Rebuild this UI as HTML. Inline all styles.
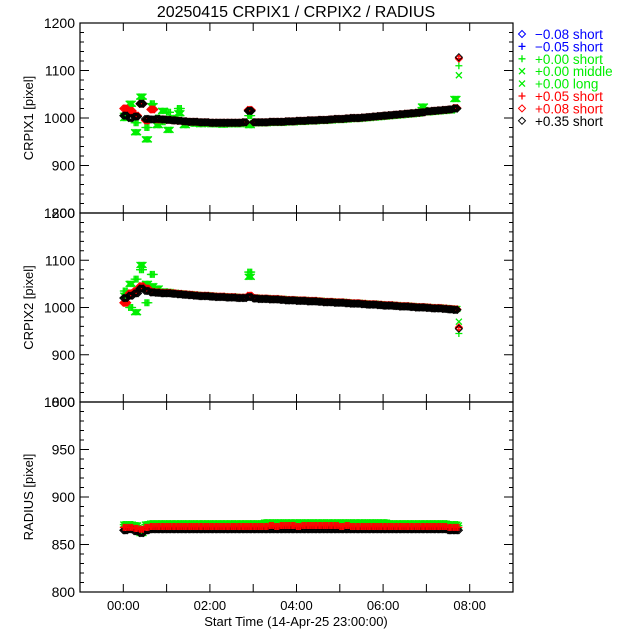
<!DOCTYPE html>
<html><head><meta charset="utf-8"><style>
html,body{margin:0;padding:0;background:#fff;width:640px;height:640px;overflow:hidden}
svg{display:block;font-family:"Liberation Sans",sans-serif}
</style></head><body>
<svg id="chart" width="640" height="640" viewBox="0 0 640 640" xmlns="http://www.w3.org/2000/svg">
<rect x="0" y="0" width="640" height="640" fill="#fff"/>
<text x="296" y="17" font-size="16" text-anchor="middle">20250415 CRPIX1 / CRPIX2 / RADIUS</text>
<g id="legend"></g>
<g id="plots"></g>
</svg>
<script>
// ---- data ----
const times = [0,0.125,0.25,0.375,0.5,0.625,0.75,0.875,1,1.125,1.25,1.375,1.5,1.625,1.75,1.875,2,2.125,2.25,2.375,2.5,2.625,2.75,2.875,3,3.125,3.25,3.375,3.5,3.625,3.75,3.875,4,4.125,4.25,4.375,4.5,4.625,4.75,4.875,5,5.125,5.25,5.375,5.5,5.625,5.75,5.875,6,6.125,6.25,6.375,6.5,6.625,6.75,6.875,7,7.125,7.25,7.375,7.5,7.625,7.75];
const xTickLabels = ["00:00","02:00","04:00","06:00","08:00"];
const xTickHours = [0,2,4,6,8];

const c1Black = [1005,1000,1003,1030,998,997,998,997,996,995,994,993,992,992,991,991,990,990,990,990,990,990,991,1015,991,991,991,992,992,992,993,993,994,994,995,995,996,996,997,998,998,999,1000,1000,1001,1002,1003,1004,1005,1006,1007,1008,1009,1010,1011,1012,1014,1015,1016,1017,1018,1020,1128];
const c1Red   = [1020,1015,1005,1030,995,1018,997,997,996,995,994,993,992,992,991,991,990,990,990,990,990,990,991,1017,991,991,991,992,992,992,993,993,994,994,995,995,996,996,997,998,998,999,1000,1000,1001,1002,1003,1004,1005,1006,1007,1008,1009,1010,1011,1012,1014,1015,1016,1017,1018,1021,1125];
const c1Green = [1010,1025,990,1040,980,1030,1000,992,1012,995,1020,990,991,990,990,989,988,989,988,989,989,988,990,1005,990,990,990,991,991,991,992,992,993,993,994,994,995,995,996,997,997,998,999,999,1000,1001,1002,1003,1004,1005,1006,1007,1008,1009,1010,1022,1013,1014,1015,1016,1017,1019,1110];
const c1GreenX = [1000,1030,970,1045,955,1025,985,1015,975,1000,1010,985,990,988,987,988,987,987,986,987,987,987,988,985,989,989,989,990,990,990,991,991,992,992,993,993,994,994,995,996,996,997,998,998,999,1000,1001,1002,1003,1004,1005,1006,1007,1008,1009,1024,1012,1013,1014,1015,1016,1040,1090];

const c2Black = [1020,1025,1030,1040,1035,1032,1031,1030,1030,1029,1028,1027,1026,1025,1024,1024,1023,1022,1022,1021,1021,1020,1020,1022,1019,1018,1018,1017,1017,1016,1015,1015,1014,1014,1013,1013,1012,1011,1011,1010,1010,1009,1008,1008,1007,1006,1006,1005,1004,1004,1003,1002,1002,1001,1000,1000,999,998,998,997,996,995,955];
const c2Red   = [1010,1030,1035,1045,1040,1033,1032,1031,1031,1030,1029,1028,1027,1026,1025,1025,1024,1023,1023,1022,1022,1021,1021,1025,1020,1019,1019,1018,1018,1017,1016,1016,1015,1015,1014,1014,1013,1012,1012,1011,1011,1010,1009,1009,1008,1007,1007,1006,1005,1005,1004,1003,1003,1002,1001,1001,1000,999,999,998,997,996,958];
const c2Green = [1035,1000,1060,1080,1010,1070,1035,1030,1032,1030,1029,1028,1027,1026,1025,1025,1024,1023,1023,1022,1022,1021,1021,1075,1020,1019,1019,1018,1018,1017,1016,1016,1015,1015,1014,1014,1013,1012,1012,1011,1011,1010,1009,1009,1008,1007,1007,1006,1005,1005,1004,1003,1003,1002,1001,1001,1000,999,999,998,997,996,945];
const c2GreenX = [1025,1050,990,1090,1050,1045,1040,1034,1033,1031,1030,1029,1028,1027,1026,1026,1025,1024,1024,1023,1023,1022,1022,1065,1021,1020,1020,1019,1019,1018,1017,1017,1016,1016,1015,1015,1014,1013,1013,1012,1012,1011,1010,1010,1009,1008,1008,1007,1006,1006,1005,1004,1004,1003,1002,1002,1001,1000,1000,999,998,997,970];

const rBlack = [865,866,864,862,865,866,866,866,866,866,866,866,866,866,866,866,866,866,866,866,866,866,866,866,866,866,866,866,866,866,866,866,866,866,866,866,866,866,866,866,866,866,866,866,866,866,866,866,866,866,866,866,866,866,866,866,866,866,866,866,865,865,865];
const rRed   = [868,868,867,866,868,869,869,869,869,869,869,869,869,869,869,869,869,869,869,869,869,869,869,869,869,869,869,870,869,870,870,870,869,870,870,870,870,870,870,870,869,870,869,869,869,869,869,869,869,869,869,869,869,869,869,869,869,869,869,869,868,868,868];
const rGreen = [871,871,870,862,871,872,872,872,872,872,872,872,872,872,872,872,872,872,872,872,872,872,872,872,872,872,873,873,873,873,873,873,873,873,873,873,873,873,873,873,873,873,873,873,873,873,873,873,873,872,872,872,872,872,872,872,872,872,872,872,871,871,870];

const legendLabels = ["\u22120.08 short","\u22120.05 short","+0.00 short","+0.00 middle","+0.00 long","+0.05 short","+0.08 short","+0.35 short"];
const legendColors = ["#0000ff","#0000ff","#00ee00","#00ee00","#00ee00","#ff0000","#ff0000","#000000"];
const legendSyms = ["d","p","p","x","x","p","d","d"];

// ---- layout ----
const NS="http://www.w3.org/2000/svg";
const plots=document.getElementById('plots');
const X0=80,X1=513,H0=-1,H1=9;
const xs=h=>X0+(h-H0)/(H1-H0)*(X1-X0);
const SUB=[0,0.03,0.06,0.09]; // exposure sub-samples within each time bin (hours)
function mk(tag,attrs,parent){const e=document.createElementNS(NS,tag);for(const k in attrs)e.setAttribute(k,attrs[k]);(parent||plots).appendChild(e);return e;}
function sym(g,type,x,y,color){
  let e;
  if(type==='d'){e=mk('path',{d:`M${x},${y-3.5}L${x+3.5},${y}L${x},${y+3.5}L${x-3.5},${y}Z`,fill:'none',stroke:color,'stroke-width':1},g);}
  else if(type==='p'){e=mk('path',{d:`M${x-3.5},${y}H${x+3.5}M${x},${y-3.5}V${y+3.5}`,stroke:color,'stroke-width':1.3,fill:'none'},g);}
  else {e=mk('path',{d:`M${x-3},${y-3}L${x+3},${y+3}M${x-3},${y+3}L${x+3},${y-3}`,stroke:color,'stroke-width':1.3,fill:'none'},g);}
  
  
}
const panels=[
 {name:'crpix1',top:23,bot:213,ymin:800,ymax:1200,major:100,minor:20,title:'CRPIX1 [pixel]',series:[[c1GreenX,'x','#00ee00'],[c1Green,'p','#00ee00'],[c1Red,'p','#ff0000'],[c1Red,'d','#ff0000'],[c1Black,'d','#000000']]},
 {name:'crpix2',top:213,bot:402,ymin:800,ymax:1200,major:100,minor:20,title:'CRPIX2 [pixel]',series:[[c2GreenX,'x','#00ee00'],[c2Green,'p','#00ee00'],[c2Red,'p','#ff0000'],[c2Red,'d','#ff0000'],[c2Black,'d','#000000']]},
 {name:'radius',top:402,bot:592,ymin:800,ymax:1000,major:50,minor:10,title:'RADIUS [pixel]',series:[[rGreen,'x','#00ee00'],[rGreen,'p','#00ee00'],[rBlack,'d','#000000'],[rRed,'p','#ff0000']]}
];
panels.forEach((p,pi)=>{
  const g=mk('g',{});
  
  
  const ys=v=>p.bot-(v-p.ymin)/(p.ymax-p.ymin)*(p.bot-p.top);
  const clip=mk('clipPath',{id:'clip'+pi},g);
  mk('rect',{x:X0,y:p.top,width:X1-X0,height:p.bot-p.top},clip);
  const dg=mk('g',{'clip-path':`url(#clip${pi})`},g);
  
  
  p.series.forEach(([arr,t,c])=>{arr.forEach((v,i)=>{
    const n=(i===arr.length-1)?1:SUB.length;
    for(let k=0;k<n;k++) sym(dg,t,xs(times[i]+SUB[k]),ys(v),c);
  });});
  const frame=mk('rect',{x:X0,y:p.top,width:X1-X0,height:p.bot-p.top,fill:'none',stroke:'#000','stroke-width':1.2},g);
  
  
  let d='';
  for(let v=p.ymin;v<=p.ymax+1e-6;v+=p.minor){const y=ys(v);const L=(Math.abs(v%p.major)<1e-6)?9:4;d+=`M${X0},${y}h${L}M${X1},${y}h${-L}`;}
  for(let h=0;h<=8;h++){const x=xs(h);d+=`M${x},${p.bot}v-8M${x},${p.top}v8`;}
  mk('path',{d:d,stroke:'#000','stroke-width':1},g);
  for(let v=p.ymin;v<=p.ymax+1e-6;v+=p.major){
    const t=mk('text',{x:X0-5,y:ys(v)+5,'font-size':14,'text-anchor':'end'},g);
    t.textContent=v;
    
    
  }
  const yt=mk('text',{x:0,y:0,'font-size':13,'text-anchor':'middle',transform:`translate(33,${(p.top+p.bot)/2}) rotate(-90)`},g);
  yt.textContent=p.title;
  
  
});
xTickHours.forEach((h,i)=>{
  const t=mk('text',{x:xs(h),y:610,'font-size':13,'text-anchor':'middle'});
  t.textContent=xTickLabels[i];
  
  
});
const xt=mk('text',{x:296,y:626,'font-size':13,'text-anchor':'middle'});
xt.textContent='Start Time (14-Apr-25 23:00:00)';


const lg=document.getElementById('legend');
legendLabels.forEach((lab,i)=>{
  const y=34+i*12.4;
  const e=mk('g',{},lg);
  
  
  sym(e,legendSyms[i],522,y,legendColors[i]);
  const t=mk('text',{x:535,y:y+5,'font-size':13.5,fill:legendColors[i]},e);
  t.textContent=lab;
});
</script>
</body></html>
